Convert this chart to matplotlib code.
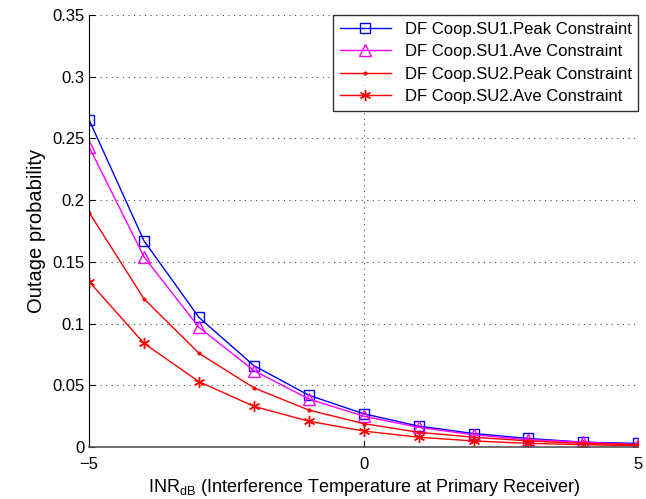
import matplotlib
matplotlib.use("Agg")
import matplotlib.pyplot as plt

plt.rcParams['font.family'] = ['Liberation Sans', 'DejaVu Sans']

inr_db = [-5, -4, -3, -2, -1, 0, 1, 2, 3, 4, 5]
su1_peak = [0.265, 0.167, 0.105, 0.066, 0.042, 0.027, 0.017, 0.011, 0.007, 0.004, 0.003]
su1_ave = [0.243, 0.154, 0.097, 0.062, 0.039, 0.025, 0.016, 0.010, 0.006, 0.004, 0.002]
su2_peak = [0.190, 0.120, 0.076, 0.048, 0.030, 0.019, 0.012, 0.008, 0.005, 0.003, 0.002]
su2_ave = [0.134, 0.084, 0.053, 0.033, 0.021, 0.013, 0.008, 0.005, 0.003, 0.002, 0.001]
labels = ['DF Coop.SU1.Peak Constraint', 'DF Coop.SU1.Ave Constraint',
          'DF Coop.SU2.Peak Constraint', 'DF Coop.SU2.Ave Constraint']
xticks = [-5, 0, 5]
xtick_labels = ['\u22125', '0', '5']
yticks = [0, 0.05, 0.1, 0.15, 0.2, 0.25, 0.3, 0.35]
ytick_labels = ['0', '0.05', '0.1', '0.15', '0.2', '0.25', '0.3', '0.35']

fig = plt.figure(figsize=(6.46, 4.99), dpi=100)
ax = fig.add_axes([0.138, 0.104, 0.850, 0.866])

asterisk = (6, 2, 0)
ax.plot(inr_db, su1_peak, color='#0000ff', marker='s', ms=7, mfc='none', mew=1.0, lw=1.0, label=labels[0])
ax.plot(inr_db, su1_ave, color='#ff00ff', marker='^', ms=8, mfc='none', mew=1.0, lw=1.0, label=labels[1])
ax.plot(inr_db, su2_peak, color='#ff0000', marker='.', ms=4, lw=1.0, label=labels[2])
ax.plot(inr_db, su2_ave, color='#ff0000', marker=asterisk, ms=8, mew=1.0, lw=1.0, label=labels[3])

ax.set_xlim(-5, 5)
ax.set_ylim(0, 0.35)
ax.set_xticks(xticks)
ax.set_xticklabels(xtick_labels)
ax.set_yticks(yticks)
ax.set_yticklabels(ytick_labels)
ax.tick_params(direction='in', labelsize=12, length=4, top=False, right=False)
ax.tick_params(axis='x', pad=7)
ax.grid(True, color='black', linestyle=(0, (1, 4)), lw=0.8, alpha=0.7)

for s in ['top', 'right']:
    ax.spines[s].set_visible(False)
ax.spines['left'].set_color('black')
ax.spines['bottom'].set_color('#555555')
ax.spines['bottom'].set_linewidth(1.2)

ax.set_xlabel(r'INR$_{\mathregular{dB}}$ (Interference Temperature at Primary Receiver)', fontsize=13, labelpad=4)
ax.set_ylabel('Outage probability', fontsize=14.5)

leg = ax.legend(loc='upper right', fontsize=12, frameon=True, fancybox=False,
                edgecolor='black', handlelength=3.1, borderaxespad=0.0, labelspacing=0.45,
                borderpad=0.4)
leg.get_frame().set_linewidth(1.0)

fig.savefig('out.png', dpi=100)
